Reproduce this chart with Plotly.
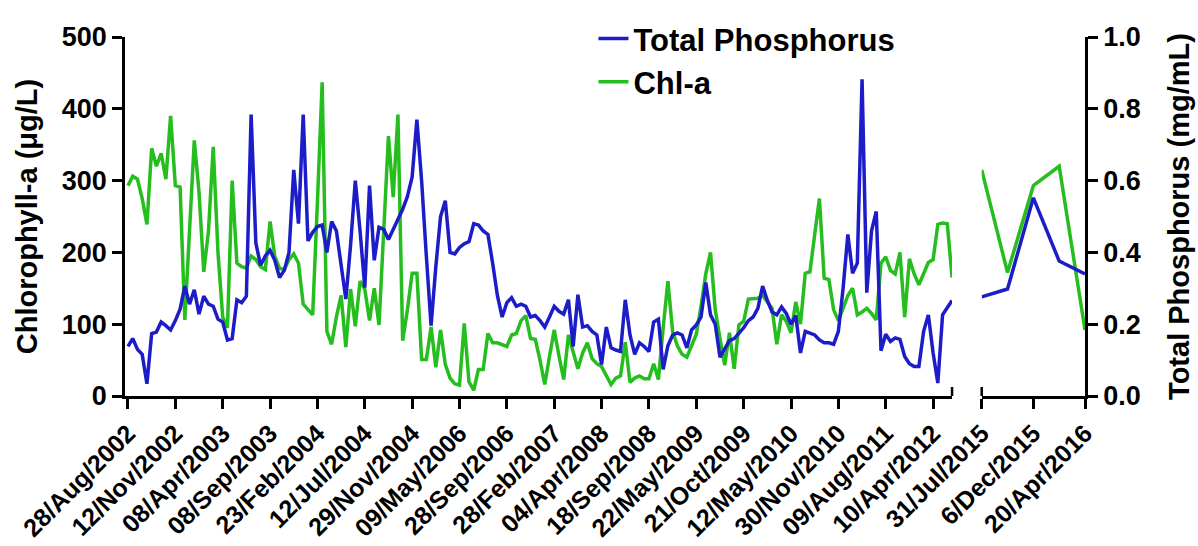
import plotly.graph_objects as go

# sampling events 28/Aug/2002 .. Apr/2012 (first block of the broken x axis)
chl_2002 = [
    293, 306, 302, 275, 239, 345, 320, 338, 302, 390,
    293, 291, 106, 230, 356, 284, 173, 230, 347, 200,
    110, 95, 300, 185, 180, 178, 195, 190, 180, 176,
    243, 194, 178, 176, 190, 198, 185, 128, 120, 113,
    270, 437, 90, 72, 110, 140, 68, 149, 97, 160,
    149, 105, 150, 99, 230, 362, 277, 392, 77, 120,
    171, 171, 51, 51, 96, 40, 92, 44, 25, 17,
    15, 101, 20, 8, 37, 37, 87, 74, 74, 71,
    69, 85, 87, 105, 112, 80, 79, 50, 16, 55,
    92, 56, 23, 85, 60, 38, 60, 74, 52, 45,
    41, 28, 16, 25, 28, 75, 19, 25, 28, 24,
    24, 45, 23, 95, 160, 90, 70, 58, 54, 70,
    86, 125, 170, 200, 120, 80, 43, 88, 38, 99,
    104, 135, 135, 136, 140, 130, 122, 72, 113, 104,
    88, 131, 100, 171, 173, 225, 275, 164, 162, 120,
    105, 122, 140, 150, 113, 117, 122, 115, 106, 185,
    194, 175, 170, 200, 110, 191, 170, 155, 170, 186,
    190, 239, 241, 240, 165,
]

tp_2002 = [
    0.138, 0.160, 0.130, 0.116, 0.034, 0.174, 0.178, 0.206, 0.196, 0.184,
    0.210, 0.242, 0.306, 0.256, 0.296, 0.228, 0.278, 0.256, 0.250, 0.214,
    0.206, 0.156, 0.160, 0.268, 0.260, 0.278, 0.784, 0.426, 0.364, 0.390,
    0.406, 0.378, 0.330, 0.350, 0.400, 0.630, 0.480, 0.784, 0.432, 0.456,
    0.472, 0.476, 0.400, 0.486, 0.460, 0.370, 0.270, 0.420, 0.600, 0.460,
    0.302, 0.586, 0.378, 0.470, 0.464, 0.436, 0.464, 0.496, 0.520, 0.556,
    0.610, 0.770, 0.600, 0.390, 0.196, 0.360, 0.500, 0.544, 0.400, 0.396,
    0.414, 0.424, 0.430, 0.480, 0.476, 0.460, 0.450, 0.370, 0.280, 0.220,
    0.260, 0.274, 0.250, 0.256, 0.250, 0.220, 0.224, 0.210, 0.192, 0.220,
    0.250, 0.236, 0.228, 0.268, 0.138, 0.282, 0.192, 0.196, 0.180, 0.170,
    0.088, 0.192, 0.134, 0.128, 0.124, 0.268, 0.170, 0.116, 0.148, 0.138,
    0.124, 0.206, 0.214, 0.074, 0.140, 0.170, 0.176, 0.170, 0.134, 0.184,
    0.198, 0.220, 0.316, 0.226, 0.200, 0.108, 0.130, 0.154, 0.160, 0.176,
    0.190, 0.210, 0.220, 0.244, 0.306, 0.266, 0.234, 0.226, 0.248, 0.230,
    0.200, 0.224, 0.120, 0.180, 0.176, 0.170, 0.156, 0.148, 0.148, 0.144,
    0.180, 0.300, 0.450, 0.342, 0.370, 0.882, 0.288, 0.460, 0.514, 0.126,
    0.172, 0.152, 0.162, 0.158, 0.110, 0.090, 0.082, 0.082, 0.180, 0.226,
    0.120, 0.036, 0.226, 0.248, 0.266,
]

labels_2002 = ["28/Aug/2002", "12/Nov/2002", "08/Apr/2003", "08/Sep/2003",
               "23/Feb/2004", "12/Jul/2004", "29/Nov/2004", "09/May/2006",
               "28/Sep/2006", "28/Feb/2007", "04/Apr/2008", "18/Sep/2008",
               "22/May/2009", "21/Oct/2009", "12/May/2010", "30/Nov/2010",
               "09/Aug/2011", "10/Apr/2012"]

# second block, 2015-2016
chl_2015 = [315, 172, 293, 320, 92]
tp_2015 = [0.276, 0.298, 0.552, 0.376, 0.340]
labels_2015 = ["31/Jul/2015", "6/Dec/2015", "20/Apr/2016"]

BLUE = "#1c1cc8"
GREEN = "#26be1e"
FONT = "Liberation Sans, Arial, sans-serif"

idx_2002 = list(range(len(chl_2002)))
idx_2015 = list(range(len(chl_2015)))

fig = go.Figure()
fig.add_trace(go.Scatter(x=idx_2002, y=chl_2002, xaxis="x", yaxis="y", mode="lines",
                         name="Chl-a", legendrank=2, line=dict(color=GREEN, width=3.5)))
fig.add_trace(go.Scatter(x=idx_2015, y=chl_2015, xaxis="x2", yaxis="y", mode="lines",
                         showlegend=False, line=dict(color=GREEN, width=3.5)))
fig.add_trace(go.Scatter(x=idx_2002, y=tp_2002, xaxis="x", yaxis="y2", mode="lines",
                         name="Total Phosphorus", legendrank=1, line=dict(color=BLUE, width=3.5)))
fig.add_trace(go.Scatter(x=idx_2015, y=tp_2015, xaxis="x2", yaxis="y2", mode="lines",
                         showlegend=False, line=dict(color=BLUE, width=3.5)))

axis_style = dict(showline=True, linecolor="black", linewidth=2.5, ticks="outside",
                  ticklen=10, tickwidth=2.5, tickcolor="black", showgrid=False,
                  zeroline=False, automargin=False,
                  tickfont=dict(family=FONT, size=27, color="black", weight="bold"))

fig.update_layout(
    width=1198, height=546,
    margin=dict(l=125, r=113, t=27, b=150),
    paper_bgcolor="white", plot_bgcolor="white",
    xaxis=dict(domain=[0, 0.8615], range=[-0.63, 174], anchor="y",
               tickvals=list(range(0, 171, 10)), ticktext=labels_2002, tickangle=-45,
               **axis_style),
    xaxis2=dict(domain=[0.8924, 1], range=[0, 4], anchor="y",
                tickvals=[0, 2, 4], ticktext=labels_2015, tickangle=-45,
                **axis_style),
    yaxis=dict(range=[0, 500], dtick=100, anchor="x",
               title=dict(text="Chlorophyll-a (μg/L)", standoff=16,
                          font=dict(family=FONT, size=29, color="black", weight="bold")),
               **axis_style),
    yaxis2=dict(range=[0, 1], dtick=0.2, tickformat=".1f", anchor="x2", side="right",
                overlaying="y",
                title=dict(text="Total Phosphorus (mg/mL)", standoff=30,
                           font=dict(family=FONT, size=29, color="black", weight="bold")),
                **axis_style),
    legend=dict(x=0.488, y=1.07, xanchor="left", yanchor="top", bgcolor="rgba(0,0,0,0)",
                font=dict(family=FONT, size=31, color="black", weight="bold"),
                tracegroupgap=0),
)
fig.update_xaxes(tickfont_size=25)

# break caps at the gap in the x axis
for ref, pos in (("x domain", 1), ("x2 domain", 0)):
    fig.add_shape(type="line", xref=ref, x0=pos, x1=pos, yref="y", ysizemode="pixel",
                  yanchor=0, y0=-9, y1=9, line=dict(color="black", width=2.5))

fig.write_html("out.html", config={"displayModeBar": False},
               post_script="document.body.style.margin='0';")
